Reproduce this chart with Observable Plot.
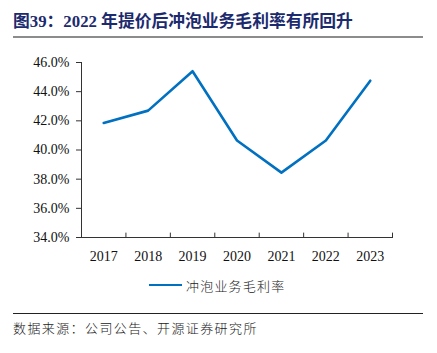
<!DOCTYPE html>
<html><head><meta charset="utf-8">
<script src="https://cdn.jsdelivr.net/npm/d3@7"></script>
<script src="https://cdn.jsdelivr.net/npm/@observablehq/plot@0.6"></script>
<style>
body{margin:0;background:#fff;}
#wrap{position:relative;width:437px;height:353px;overflow:hidden;background:#fff;}
#title{position:absolute;left:13px;top:11px;font-family:"Liberation Serif","Noto Sans CJK SC",serif;font-weight:bold;font-size:16.8px;color:#1c2a6e;white-space:nowrap;line-height:22px;}
#tline{position:absolute;left:13px;top:36px;width:410px;height:2px;background:#8c8c8c;}
#chart{position:absolute;left:0;top:0;}
#legend{position:absolute;left:149px;top:276px;height:18px;display:flex;align-items:center;font-family:"Noto Sans CJK SC",sans-serif;font-weight:300;font-size:13px;letter-spacing:1.2px;color:#222;white-space:nowrap;}
#legend .sw{width:33px;height:2.5px;background:#0070c0;margin-right:4px;}
#cline{position:absolute;left:13px;top:313px;width:410px;height:1px;background:#222;}
#caption{position:absolute;left:13px;top:319px;font-family:"Noto Sans CJK SC",sans-serif;font-weight:300;font-size:13px;letter-spacing:1.4px;color:#222;white-space:nowrap;line-height:18px;}
</style></head>
<body>
<div id="wrap">
<div id="title">图39：2022 年提价后冲泡业务毛利率有所回升</div>
<div id="tline"></div>
<div id="chart"></div>
<div id="legend"><span class="sw"></span><span>冲泡业务毛利率</span></div>
<div id="cline"></div>
<div id="caption">数据来源：公司公告、开源证券研究所</div>
</div>
<script>
const years = [2017, 2018, 2019, 2020, 2021, 2022, 2023];
const margin = [41.85, 42.7, 45.4, 40.65, 38.45, 40.65, 44.75];
const yTicks = [34, 36, 38, 40, 42, 44, 46];
const seriesName = "冲泡业务毛利率";

const data = years.map((y, i) => ({year: y, value: margin[i]}));
const bounds = years.map(y => y + 0.5);

const chart = Plot.plot({
  width: 437,
  height: 275,
  marginTop: 62,
  marginBottom: 38,
  marginLeft: 81,
  marginRight: 45,
  style: {fontFamily: "'Liberation Serif', serif", fontSize: "14px", color: "#111", background: "transparent"},
  x: {domain: [years[0] - 0.5, years[years.length - 1] + 0.5]},
  y: {domain: [yTicks[0], yTicks[yTicks.length - 1]]},
  marks: [
    Plot.frame({anchor: "left", stroke: "#333"}),
    Plot.frame({anchor: "bottom", stroke: "#333"}),
    Plot.axisY({ticks: yTicks, tickSize: 5, tickPadding: 7, fontSize: 14, tickFormat: d => d.toFixed(1) + "%", label: null, stroke: "#333"}),
    Plot.axisX({ticks: years, tickSize: 0, tickPadding: 14, fontSize: 14, tickFormat: d => String(d), label: null}),
    Plot.ruleX(bounds, {x: d => d, y1: yTicks[0], y2: yTicks[0] + 0.3, stroke: "#333"}),
    Plot.line(data, {x: "year", y: "value", stroke: "#0070c0", strokeWidth: 2.6})
  ]
});
document.getElementById("chart").appendChild(chart);
</script>
</body></html>
